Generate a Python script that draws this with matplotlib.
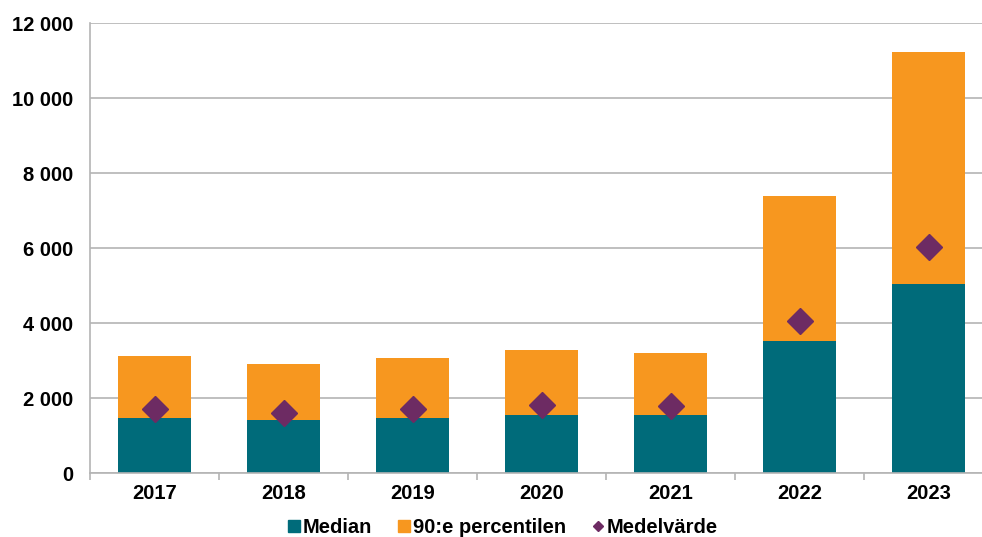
import matplotlib.pyplot as plt
from matplotlib.lines import Line2D
from matplotlib.ticker import FuncFormatter, MultipleLocator
import numpy as np

plt.rcParams['font.family'] = ['Liberation Sans', 'DejaVu Sans']

years = ['2017', '2018', '2019', '2020', '2021', '2022', '2023']
median = [1480, 1420, 1480, 1555, 1555, 3530, 5050]
p90 = [3130, 2915, 3070, 3280, 3215, 7390, 11240]
mean = [1705, 1615, 1705, 1810, 1805, 4070, 6025]

teal = '#006b7a'
orange = '#f7971f'
purple = '#6d2b63'
grid_col = '#b4b4b4'
fs = 14.5

fig = plt.figure(figsize=(9.82, 5.37), dpi=100)
# the plot area runs a little past the right edge of the figure
ax = fig.add_axes([0.0917, 0.1186, 0.9196, 0.838])

x = np.arange(len(years))
upper = np.array(p90) - np.array(median)
ax.bar(x, median, width=0.56, color=teal, zorder=2)
ax.bar(x, upper, bottom=median, width=0.56, color=orange, zorder=2)
ax.plot(x, mean, linestyle='none', marker='D', markersize=13,
        color=purple, zorder=3)

ax.set_xlim(-0.5, len(years) - 0.5)
ax.set_ylim(0, 12000)
ax.yaxis.set_major_locator(MultipleLocator(2000))
ax.yaxis.set_major_formatter(
    FuncFormatter(lambda v, _: f'{int(v):,}'.replace(',', ' ')))
ax.grid(axis='y', color=grid_col, linewidth=1.2, zorder=0)

ax.set_xticks(x)
ax.set_xticklabels(years)
ax.set_xticks(np.arange(-0.5, len(years)), minor=True)
ax.tick_params(axis='x', which='major', length=0, pad=8)
ax.tick_params(axis='x', which='minor', length=5, width=1.2, color=grid_col)
ax.tick_params(axis='y', length=0, pad=12)
for lbl in ax.get_xticklabels() + ax.get_yticklabels():
    lbl.set_fontsize(fs)
    lbl.set_fontweight('bold')

for side in ('top', 'right'):
    ax.spines[side].set_visible(False)
for side in ('left', 'bottom'):
    ax.spines[side].set_color(grid_col)
    ax.spines[side].set_linewidth(1.2)

handles = [
    Line2D([], [], linestyle='none', marker='s', markersize=8.6, color=teal),
    Line2D([], [], linestyle='none', marker='s', markersize=8.6, color=orange),
    Line2D([], [], linestyle='none', marker='D', markersize=5.6, color=purple),
]
fig.legend(handles, ['Median', '90:e percentilen', 'Medelvärde'],
           loc='center', bbox_to_anchor=(0.512, 0.018), ncol=3, frameon=False,
           prop={'size': fs, 'weight': 'bold'}, handletextpad=0.12,
           columnspacing=1.25, handlelength=0.65, borderpad=0)

fig.savefig('out.png', dpi=100)
